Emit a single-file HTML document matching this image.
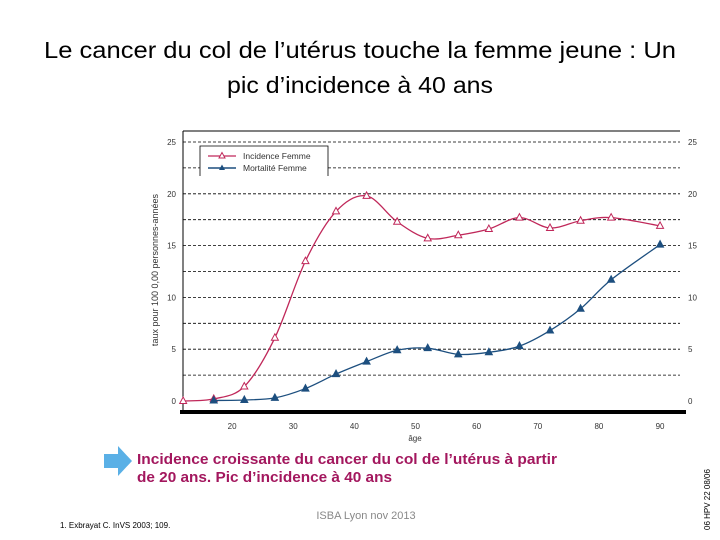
<!DOCTYPE html>
<html><head><meta charset="utf-8"><style>
body{margin:0;width:720px;height:540px;background:#fff;overflow:hidden;font-family:"Liberation Sans",sans-serif}
svg{position:absolute;left:0;top:0}
</style></head><body>
<svg width="720" height="540">
<text x="44" y="58" textLength="632" lengthAdjust="spacingAndGlyphs" font-size="23" fill="#000">Le cancer du col de l’utérus touche la femme jeune : Un</text>
<text x="227" y="93" textLength="266" lengthAdjust="spacingAndGlyphs" font-size="23" fill="#000">pic d’incidence à 40 ans</text>
<g id="chart"></g>
<polygon points="104,454 118,454 118,446 132,461 118,476 118,468 104,468" fill="#5ab0e6"/>
<text x="137" y="464" textLength="420" lengthAdjust="spacingAndGlyphs" font-size="15" font-weight="bold" fill="#a3175e">Incidence croissante du cancer du col de l’utérus à partir</text>
<text x="137" y="482" textLength="255" lengthAdjust="spacingAndGlyphs" font-size="15" font-weight="bold" fill="#a3175e">de 20 ans. Pic d’incidence à 40 ans</text>
<text x="366" y="519" text-anchor="middle" font-size="11" fill="#888">ISBA Lyon nov 2013</text>
<text x="60" y="528" font-size="8" fill="#000">1. Exbrayat C. InVS 2003; 109.</text>
<text transform="translate(710,530) rotate(-90)" font-size="8" fill="#000">06 HPV 22 08/06</text>
</svg>
<script>
const ages=[12,17,22,27,32,37,42,47,52,57,62,67,72,77,82,90];
const incidence=[0,0.2,1.4,6.1,13.5,18.3,19.8,17.3,15.7,16,16.6,17.7,16.7,17.4,17.7,16.9];
const mortAges=[17,22,27,32,37,42,47,52,57,62,67,72,77,82,90];
const mortalite=[0.05,0.1,0.3,1.2,2.6,3.8,4.9,5.1,4.5,4.7,5.3,6.8,8.9,11.7,15.1];
const xTicks=[20,30,40,50,60,70,80,90];
const yTicks=[0,5,10,15,20,25];
const NS="http://www.w3.org/2000/svg";
const g=document.getElementById('chart');
const X=a=>109.8+a*6.114, Y=v=>401-v*10.36;
function el(t,at,p){const e=document.createElementNS(NS,t);for(const k in at)e.setAttribute(k,at[k]);(p||g).appendChild(e);return e;}
let e=el('line',{x1:183,y1:131,x2:680,y2:131,stroke:'#000','stroke-width':1});

e=el('line',{x1:183,y1:131,x2:183,y2:412,stroke:'#000','stroke-width':1});

e=el('rect',{x:180,y:410,width:506,height:4,fill:'#000'});

for(let v=2.5;v<=25;v+=2.5){e=el('line',{x1:183,y1:Y(v),x2:680,y2:Y(v),stroke:'#000','stroke-width':0.8,'stroke-dasharray':'3,2'});
}
yTicks.forEach(v=>{
e=el('text',{x:176,y:Y(v)+3,'text-anchor':'end','font-size':8,fill:'#333'});e.textContent=v;

e=el('text',{x:688,y:Y(v)+3,'font-size':8,fill:'#333'});e.textContent=v;
});
xTicks.forEach(a=>{e=el('text',{x:X(a),y:429,'text-anchor':'middle','font-size':8,fill:'#333'});e.textContent=a;
});
e=el('text',{x:415,y:441,'text-anchor':'middle','font-size':8,fill:'#333'});e.textContent='âge';

e=el('text',{transform:'translate(158,270) rotate(-90)','text-anchor':'middle','font-size':9,fill:'#333'});e.textContent='taux pour 100 0,00 personnes-années';

function smooth(pts){let d='M'+pts[0][0]+','+pts[0][1];for(let i=0;i<pts.length-1;i++){const p0=pts[Math.max(0,i-1)],p1=pts[i],p2=pts[i+1],p3=pts[Math.min(pts.length-1,i+2)];
d+=' C'+(p1[0]+(p2[0]-p0[0])/6)+','+(p1[1]+(p2[1]-p0[1])/6)+' '+(p2[0]-(p3[0]-p1[0])/6)+','+(p2[1]-(p3[1]-p1[1])/6)+' '+p2[0]+','+p2[1];}return d;}
function series(xs,ys,col,fill,name){
const pts=xs.map((a,i)=>[X(a),Y(ys[i])]);
let p=el('path',{d:smooth(pts),fill:'none',stroke:col,'stroke-width':1.3});

pts.forEach(q=>{let m=el('polygon',{points:`${q[0]},${q[1]-4} ${q[0]-3.5},${q[1]+2.5} ${q[0]+3.5},${q[1]+2.5}`,fill:fill,stroke:col,'stroke-width':1});
});}
series(ages,incidence,'#c0285a','#fff','incidence');
series(mortAges,mortalite,'#1d4f7f','#1d4f7f','mortalite');
e=el('path',{d:'M200,176 L200,146 L328,146 L328,176',fill:'#fff',stroke:'#000','stroke-width':0.8});

e=el('line',{x1:208,y1:156,x2:236,y2:156,stroke:'#c0285a','stroke-width':1.3});

e=el('polygon',{points:'222,152.5 219,158 225,158',fill:'#fff',stroke:'#c0285a'});

e=el('text',{x:243,y:159,'font-size':8.5,fill:'#333'});e.textContent='Incidence Femme';

e=el('line',{x1:208,y1:168,x2:236,y2:168,stroke:'#1d4f7f','stroke-width':1.5});

e=el('polygon',{points:'222,164.5 219,170 225,170',fill:'#1d4f7f'});

e=el('text',{x:243,y:171,'font-size':8.5,fill:'#333'});e.textContent='Mortalité Femme';

</script>
</body></html>
